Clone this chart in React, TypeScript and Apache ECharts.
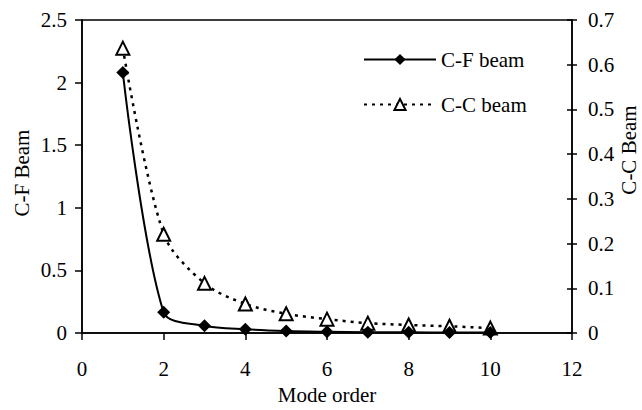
import React, { useEffect, useRef } from "react";
import * as echarts from "echarts";

const modes = [1, 2, 3, 4, 5, 6, 7, 8, 9, 10];
const cfBeam = [2.08, 0.165, 0.058, 0.03, 0.016, 0.01, 0.006, 0.005, 0.004, 0.003];
const ccBeam = [0.637, 0.221, 0.111, 0.065, 0.043, 0.031, 0.022, 0.018, 0.015, 0.011];
const seriesNames = ["C-F beam", "C-C beam"];
const xTitle = "Mode order";
const leftTitle = "C-F Beam";
const rightTitle = "C-C Beam";

const FONT = "Liberation Serif";
const FS = 21;

export default function App() {
  const ref = useRef<HTMLDivElement>(null);
  useEffect(() => {
    if (!ref.current) return;
    const chart = echarts.init(ref.current, null, { renderer: "svg" });
    const black = "#000";
    const axisText = { color: black, fontFamily: FONT, fontSize: FS };
    chart.setOption({
      animation: false,
      backgroundColor: "#fff",
      textStyle: { fontFamily: FONT, color: black },
      grid: { left: 82, right: 70, top: 20, bottom: 72, show: true, borderColor: black, borderWidth: 1.5 },
      legend: {
        orient: "vertical",
        left: 358,
        top: 44,
        itemWidth: 72,
        itemHeight: 14,
        itemGap: 24,
        textStyle: { ...axisText },
        data: seriesNames,
      },
      graphic: [
        {
          type: "text",
          x: 22,
          y: 173,
          rotation: Math.PI / 2,
          style: { text: leftTitle, fill: black, font: `${FS}px "${FONT}"`, textAlign: "center", textVerticalAlign: "middle" },
        },
        {
          type: "text",
          x: 629,
          y: 150,
          rotation: Math.PI / 2,
          style: { text: rightTitle, fill: black, font: `${FS}px "${FONT}"`, textAlign: "center", textVerticalAlign: "middle" },
        },
      ],
      xAxis: {
        type: "value",
        min: 0,
        max: 12,
        interval: 2,
        name: xTitle,
        nameLocation: "middle",
        nameGap: 51,
        nameTextStyle: { ...axisText },
        axisLine: { lineStyle: { color: black, width: 1.5 } },
        axisTick: { show: true, length: 7, lineStyle: { color: black, width: 1.5 } },
        axisLabel: { ...axisText, margin: 25 },
        splitLine: { show: false },
      },
      yAxis: [
        {
          type: "value",
          min: 0,
          max: 2.5,
          interval: 0.5,
          position: "left",
          axisLine: { show: true, lineStyle: { color: black, width: 1.5 } },
          axisTick: { show: true, length: 7, lineStyle: { color: black, width: 1.5 } },
          axisLabel: { ...axisText, margin: 15 },
          splitLine: { show: false },
        },
        {
          type: "value",
          min: 0,
          max: 0.7,
          interval: 0.1,
          position: "right",
          axisLine: { show: true, lineStyle: { color: black, width: 1.5 } },
          axisTick: { show: true, length: 5, lineStyle: { color: black, width: 1.5 } },
          axisLabel: { ...axisText, margin: 16 },
          splitLine: { show: false },
        },
        {
          type: "value",
          min: 0,
          max: 0.7,
          interval: 0.1,
          position: "right",
          axisLine: { show: false },
          axisTick: { show: true, inside: true, length: 5, lineStyle: { color: black, width: 1.5 } },
          axisLabel: { show: false },
          splitLine: { show: false },
        },
      ],
      series: [
        {
          name: seriesNames[0],
          type: "line",
          yAxisIndex: 0,
          smooth: 0.3,
          symbol: "diamond",
          symbolSize: 13,
          itemStyle: { color: black },
          lineStyle: { color: black, width: 2 },
          data: modes.map((m, i) => [m, cfBeam[i]]),
        },
        {
          name: seriesNames[1],
          type: "line",
          yAxisIndex: 1,
          smooth: 0.3,
          symbol: "triangle",
          symbolSize: 13,
          itemStyle: { color: "#fff", borderColor: black, borderWidth: 2 },
          lineStyle: { color: black, width: 2.5, type: [3, 5] },
          data: modes.map((m, i) => [m, ccBeam[i]]),
          z: 1,
        },
      ],
    });
    return () => chart.dispose();
  }, []);
  return (
    <div
      ref={ref}
      style={{ position: "fixed", left: 0, top: 0, width: 642, height: 410, background: "#fff" }}
    />
  );
}
